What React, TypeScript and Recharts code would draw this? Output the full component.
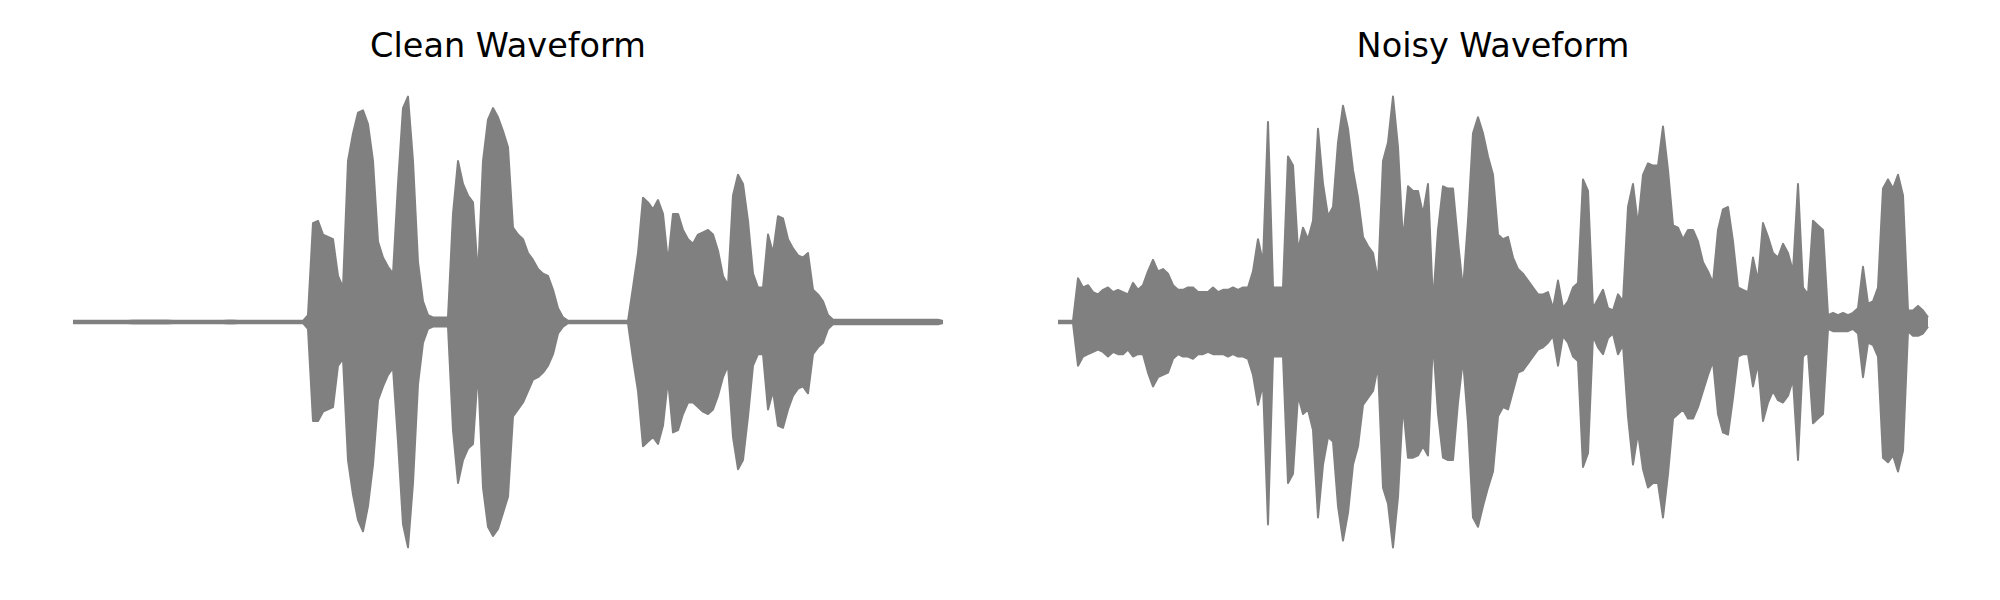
import { AreaChart, Area, XAxis, YAxis } from 'recharts';

// envelope of each waveform, sampled evenly in time, in % of full scale
const cleanUpper = [
  0.5, 0.5, 0.5, 0.5, 0.5, 0.5, 0.5, 0.5, 0.5, 0.5,
  0.5, 0.5, 0.7, 0.7, 0.7, 0.7, 0.7, 0.7, 0.7, 0.7,
  0.5, 0.5, 0.5, 0.5, 0.5, 0.5, 0.5, 0.5, 0.5, 0.5,
  0.5, 0.7, 0.7, 0.5, 0.5, 0.5, 0.5, 0.5, 0.5, 0.5,
  0.5, 0.5, 0.5, 0.5, 0.5, 0.5, 0.5, 3, 43, 44,
  38, 37, 36, 20, 15, 70, 82, 91, 92, 86,
  70, 35, 28, 24, 21, 60, 93, 98, 70, 26,
  9, 3, 2, 2, 2, 2, 47, 70, 60, 55,
  52, 20, 70, 88, 93, 89, 83, 76, 41, 38,
  36, 30, 27, 23, 21, 20, 14, 6, 2, 0.5,
  0.5, 0.5, 0.5, 0.5, 0.5, 0.5, 0.5, 0.5, 0.5, 0.5,
  0.5, 0.5, 15, 30, 54, 52, 49, 53, 47, 26,
  47, 47, 40, 36, 34, 38, 39, 40, 38, 31,
  20, 16, 55, 64, 60, 44, 21, 15, 15, 38,
  30, 46, 45, 36, 32, 29, 28, 30, 14, 12,
  9, 3, 1, 1, 1, 1, 1, 1, 1, 1,
  1, 1, 1, 1, 1, 1, 1, 1, 1, 1,
  1, 1, 1, 1, 0.5,
];

const cleanLower = [
  -0.5, -0.5, -0.5, -0.5, -0.5, -0.5, -0.5, -0.5, -0.5, -0.5,
  -0.5, -0.5, -0.7, -0.7, -0.7, -0.7, -0.7, -0.7, -0.7, -0.7,
  -0.5, -0.5, -0.5, -0.5, -0.5, -0.5, -0.5, -0.5, -0.5, -0.5,
  -0.5, -0.7, -0.7, -0.5, -0.5, -0.5, -0.5, -0.5, -0.5, -0.5,
  -0.5, -0.5, -0.5, -0.5, -0.5, -0.5, -0.5, -3, -43, -43,
  -39, -38, -37, -19, -16, -60, -75, -86, -91, -80,
  -62, -34, -28, -23, -20, -52, -88, -98, -70, -27,
  -9, -3, -2, -2, -2, -2, -47, -70, -60, -55,
  -53, -21, -72, -89, -93, -90, -83, -76, -41, -38,
  -35, -30, -25, -24, -22, -19, -14, -5, -2, -0.5,
  -0.5, -0.5, -0.5, -0.5, -0.5, -0.5, -0.5, -0.5, -0.5, -0.5,
  -0.5, -0.5, -16, -30, -54, -52, -50, -53, -45, -25,
  -48, -47, -40, -35, -35, -37, -39, -40, -38, -32,
  -24, -19, -50, -64, -60, -41, -19, -14, -14, -38,
  -30, -45, -46, -38, -32, -29, -28, -31, -14, -11,
  -9, -3, -1, -1, -1, -1, -1, -1, -1, -1,
  -1, -1, -1, -1, -1, -1, -1, -1, -1, -1,
  -1, -1, -1, -1, -0.5,
];

const noisyUpper = [
  0.5, 0.5, 0.5, 0.5, 19, 15, 16, 13, 12, 14,
  15, 13, 14, 13, 12, 17, 14, 16, 22, 27,
  22, 23, 21, 16, 14, 14, 15, 15, 13, 13,
  13, 15, 13, 14, 14, 15, 14, 15, 15, 22,
  36, 26, 87, 15, 15, 15, 72, 68, 31, 41,
  36, 44, 84, 60, 46, 50, 78, 94, 84, 66,
  54, 37, 33, 30, 18, 70, 78, 98, 76, 35,
  59, 57, 57, 47, 60, 8, 40, 59, 58, 58,
  35, 14, 44, 82, 89, 82, 72, 64, 38, 36,
  37, 28, 23, 21, 18, 15, 12, 12, 13, 6,
  18, 6, 9, 15, 17, 62, 57, 6, 10, 14,
  6, 5, 12, 9, 50, 60, 42, 64, 69, 68,
  68, 85, 66, 42, 41, 36, 40, 40, 35, 26,
  22, 17, 40, 49, 50, 35, 15, 14, 13, 28,
  18, 43, 37, 30, 28, 34, 30, 22, 60, 15,
  12, 44, 42, 40, 3, 4, 3, 4, 3, 4,
  6, 24, 8, 9, 15, 58, 62, 58, 64, 55,
  5, 5, 7, 5, 2,
];

const noisyLower = [
  -0.5, -0.5, -0.5, -0.5, -19, -15, -14, -13, -12, -13,
  -15, -13, -14, -14, -12, -15, -14, -14, -22, -28,
  -24, -23, -22, -16, -14, -15, -15, -16, -14, -14,
  -13, -14, -14, -14, -15, -14, -15, -15, -16, -23,
  -36, -27, -88, -15, -15, -15, -70, -66, -32, -40,
  -38, -47, -85, -62, -50, -52, -80, -95, -83, -62,
  -54, -36, -33, -30, -19, -72, -79, -98, -76, -36,
  -59, -59, -58, -54, -58, -8, -40, -59, -60, -60,
  -35, -16, -44, -85, -89, -80, -72, -65, -41, -37,
  -38, -30, -22, -21, -18, -15, -12, -11, -9, -6,
  -19, -6, -9, -15, -17, -63, -57, -6, -11, -14,
  -7, -5, -14, -10, -41, -62, -48, -64, -72, -70,
  -70, -85, -66, -42, -40, -38, -42, -42, -37, -30,
  -23, -17, -40, -48, -49, -33, -15, -14, -14, -28,
  -18, -43, -35, -30, -34, -35, -32, -25, -60, -15,
  -13, -44, -42, -40, -3, -4, -4, -4, -4, -3,
  -5, -24, -9, -10, -15, -59, -61, -58, -65, -56,
  -4, -6, -6, -5, -2,
];

const GRAY = '#808080';

const toRows = (upper: number[], lower: number[]) =>
  upper.map((hi, i) => ({ t: i, hi, lo: lower[i] }));

interface WaveformProps {
  title: string;
  upper: number[];
  lower: number[];
  left: number;
}

const Waveform = ({ title, upper, lower, left }: WaveformProps) => (
  <div style={{ position: 'absolute', left, top: 0, width: 880, height: 600 }}>
    <AreaChart
      width={880}
      height={600}
      data={toRows(upper, lower)}
      margin={{ top: 92, right: 5, bottom: 48, left: 5 }}
    >
      <XAxis dataKey="t" type="number" domain={[0, upper.length - 1]} hide />
      <YAxis type="number" domain={[-100, 100]} allowDataOverflow hide />
      <Area
        dataKey="hi"
        type="linear"
        baseValue={0}
        stroke={GRAY}
        strokeWidth={2}
        strokeLinejoin="round"
        fill={GRAY}
        fillOpacity={1}
        dot={false}
        activeDot={false}
        isAnimationActive={false}
      />
      <Area
        dataKey="lo"
        type="linear"
        baseValue={0}
        stroke={GRAY}
        strokeWidth={2}
        strokeLinejoin="round"
        fill={GRAY}
        fillOpacity={1}
        dot={false}
        activeDot={false}
        isAnimationActive={false}
      />
    </AreaChart>
    <div
      style={{
        position: 'absolute',
        left: 0,
        top: 30,
        width: 880,
        textAlign: 'center',
        fontFamily: '"DejaVu Sans", sans-serif',
        fontSize: 33.5,
        lineHeight: '32px',
        color: '#000',
      }}
    >
      {title}
    </div>
  </div>
);

export default function App() {
  return (
    <div
      style={{
        position: 'absolute',
        left: 0,
        top: 0,
        width: 2000,
        height: 600,
        background: '#fff',
        overflow: 'hidden',
      }}
    >
      <Waveform title="Clean Waveform" upper={cleanUpper} lower={cleanLower} left={68} />
      <Waveform title="Noisy Waveform" upper={noisyUpper} lower={noisyLower} left={1053} />
    </div>
  );
}
